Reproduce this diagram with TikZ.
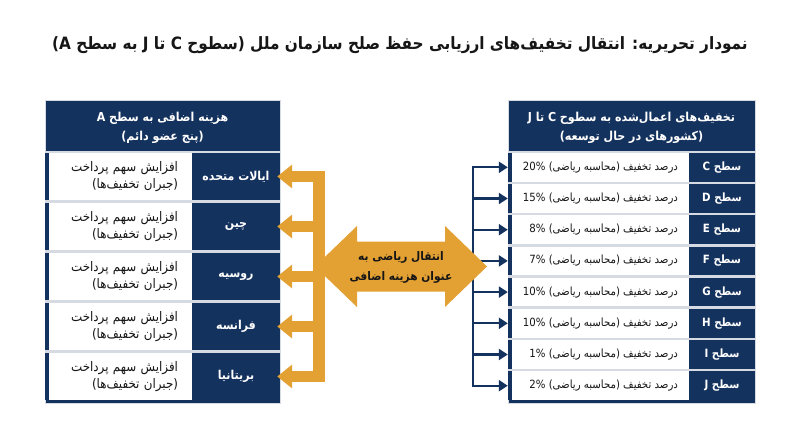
\documentclass[tikz,border=0pt]{standalone}
\usepackage{fontspec}
\usetikzlibrary{arrows.meta,calc}
\TeXXeTstate=1
\newfontfamily\fa[Script=Arabic]{DejaVu Sans Condensed}
\definecolor{navy}{RGB}{20,50,94}
\definecolor{gold}{RGB}{227,161,52}
\definecolor{sepc}{RGB}{214,219,227}
\definecolor{ink}{RGB}{22,22,22}
\newcommand\RL[1]{\beginR#1\endR}
\newcommand\LR[1]{\beginL#1\endL}
\begin{document}
\begin{tikzpicture}[x=1pt,y=-1pt,
  titletext/.style={text=ink,font=\fa\bfseries\fontsize{17}{21}\selectfont,inner sep=0pt},
  hdrtext/.style={text=white,font=\fa\bfseries\fontsize{12.3}{19}\selectfont,align=center,inner sep=0pt},
  lrow/.style={fill=navy,minimum width=235,minimum height=47,inner sep=0pt},
  lwhite/.style={fill=white,minimum width=143,minimum height=47,text width=115,inner xsep=14,inner ysep=0pt,align=right,text=ink,font=\fa\fontsize{13.2}{17}\selectfont},
  lname/.style={minimum width=88,minimum height=47,inner sep=0pt,text=white,font=\fa\bfseries\fontsize{12.2}{15}\selectfont},
  rrow/.style={fill=navy,minimum width=247,minimum height=28.6,inner sep=0pt},
  rwhite/.style={fill=white,minimum width=177,minimum height=28.6,inner xsep=11,inner ysep=0pt,text=ink,font=\fa\fontsize{11.3}{13}\selectfont},
  rname/.style={minimum width=66,minimum height=28.6,inner sep=0pt,text=white,font=\fa\bfseries\fontsize{11.4}{14}\selectfont},
  midtext/.style={text=ink,font=\fa\bfseries\fontsize{11.8}{20}\selectfont,align=center,inner sep=0pt},
  goldarrow/.style={draw=gold,line width=11,-{Triangle[length=15pt,width=23pt]},shorten >=-3pt},
  navyline/.style={draw=navy,line width=2.2,line cap=rect},
  navyarrow/.style={draw=navy,line width=2.2,-{Triangle[length=9pt,width=11pt]}}
]
\useasboundingbox (0,0) rectangle (800,447);
\fill[white] (0,0) rectangle (800,447);

% title
\node[titletext] (title) at (400,45) {\RL{نمودار تحریریه: انتقال تخفیف^^^^200cهای ارزیابی حفظ صلح سازمان ملل (سطوح C تا J به سطح A\kern0pt)}};

% ---------- left panel ----------
\fill[navy] (45,100) rectangle (280,403);
\draw[sepc,line width=0.8] (45,100) rectangle (280,403);
\fill[sepc] (45,151) rectangle (280,153);
\foreach \i in {0,...,3}{\fill[sepc] (45,200+50*\i) rectangle (280,203+50*\i);}
\node[hdrtext] (lhead) at (162.5,127.5) {\RL{هزینه اضافی به سطح A}\\\RL{(پنج عضو دائم)}};
\foreach \i/\nm in {0/ایالات متحده,1/چین,2/روسیه,3/فرانسه,4/بریتانیا}{
  \pgfmathsetmacro\cy{176.5+50*\i}
  \node[lrow] (lr\i) at (162.5,\cy) {};
  \node[lwhite] (lw\i) at (120.5,\cy) {\RL{افزایش سهم پرداخت}\\\RL{(جبران تخفیف^^^^200cها)}};
  \node[lname] (ln\i) at (236,\cy) {\RL{\nm}};
}

% ---------- right panel ----------
\fill[navy] (508,100) rectangle (755,403);
\draw[sepc,line width=0.8] (508,100) rectangle (755,403);
\fill[sepc] (508,151) rectangle (755,153);
\foreach \i in {0,...,6}{\fill[sepc] (508,181.6+31.2*\i) rectangle (755,184.2+31.2*\i);}
\node[hdrtext] (rhead) at (631.5,127.5) {\RL{تخفیف^^^^200cهای اعمال^^^^200cشده به سطوح C تا J}\\\RL{(کشورهای در حال توسعه)}};
\foreach \i/\lt/\pc in {0/C/20,1/D/15,2/E/8,3/F/7,4/G/10,5/H/10,6/I/1,7/J/2}{
  \pgfmathsetmacro\cy{167.3+31.2*\i}
  \node[rrow] (rr\i) at (631.5,\cy) {};
  \node[rwhite] (rw\i) at (600.5,\cy) {\makebox[155pt][r]{\RL{درصد تخفیف (محاسبه ریاضی) \LR{\pc\%}}}};
  \node[rname] (rn\i) at (722,\cy) {\RL{سطح \lt}};
  \coordinate (rb\i) at (473,\cy);
}

% ---------- navy distribution connectors ----------
\draw[navyline] (rb0) -- (rb7);
\foreach \i in {0,...,7}{\draw[navyarrow] (rb\i) -- (rr\i.west);}

% ---------- gold connectors ----------
\foreach \i in {0,...,4}{\coordinate (lb\i) at (319,176.5+50*\i);}
\foreach \i in {0,...,4}{\draw[goldarrow] (lb\i) -- (lr\i.east);}
\draw[gold,line width=12] ($(lb0)+(0,-5.5)$) -- ($(lb4)+(0,5.5)$);

% central double arrow
\fill[gold] (315,266.5) -- (357,226) -- (357,241.5) -- (445,241.5) -- (445,226) -- (487,266.5)
  -- (445,307) -- (445,291.5) -- (357,291.5) -- (357,307) -- cycle;
\node[midtext] (mid) at (401,267) {\RL{انتقال ریاضی به}\\\RL{عنوان هزینه اضافی}};
\end{tikzpicture}
\end{document}
